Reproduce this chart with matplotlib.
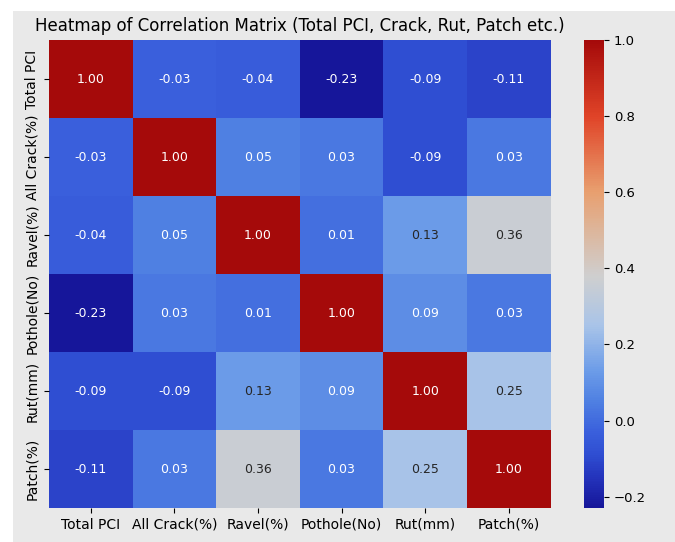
import numpy as np
import matplotlib
matplotlib.use("Agg")
import matplotlib.pyplot as plt
import seaborn as sns
from matplotlib.patches import Rectangle
from matplotlib.colors import LinearSegmentedColormap

labels = ["Total PCI", "All Crack(%)", "Ravel(%)", "Pothole(No)", "Rut(mm)", "Patch(%)"]

total_pci = [1.00, -0.03, -0.04, -0.23, -0.09, -0.11]
all_crack = [-0.03, 1.00, 0.05, 0.03, -0.09, 0.03]
ravel = [-0.04, 0.05, 1.00, 0.01, 0.13, 0.36]
pothole = [-0.23, 0.03, 0.01, 1.00, 0.09, 0.03]
rut = [-0.09, -0.09, 0.13, 0.09, 1.00, 0.25]
patch = [-0.11, 0.03, 0.36, 0.03, 0.25, 1.00]

corr = np.array([total_pci, all_crack, ravel, pothole, rut, patch])
vmin, vmax = corr.min(), corr.max()

# vivid blue -> grey -> red diverging palette, anchored at correlation values
anchor_vals = [-0.23, -0.15, -0.09, -0.03, 0.05, 0.13, 0.25, 0.38, 0.6, 0.8, 1.0]
anchor_cols = ["#16169a", "#2434bc", "#2f4ed2", "#3a60dc", "#4f80e2", "#6c9ce8",
               "#a9c4e8", "#cfcfcf", "#e8a070", "#e04428", "#a50a0a"]
pos = [(v - vmin) / (vmax - vmin) for v in anchor_vals]
cmap = LinearSegmentedColormap.from_list("bgr", list(zip(pos, anchor_cols)))

bg = "#e9e9e9"
fig = plt.figure(figsize=(6.75, 5.42), dpi=100, facecolor="white")
fig.patches.append(Rectangle((13 / 675, -0.01), 1.1, 1.01 - 11 / 542,
                             transform=fig.transFigure, facecolor=bg,
                             edgecolor="none", zorder=-10))

ax = fig.add_axes([0.0726, 0.0627, 0.743, 0.863])
cax = fig.add_axes([0.865, 0.0627, 0.030, 0.863])

sns.heatmap(corr, annot=True, fmt=".2f", cmap=cmap, vmin=vmin, vmax=vmax,
            ax=ax, cbar_ax=cax, xticklabels=labels, yticklabels=labels,
            annot_kws={"fontsize": 9})

# light cells get dark annotation text
for txt, v in zip(ax.texts, corr.ravel()):
    txt.set_color("#262626" if 0.1 < v < 0.5 else "white")

ax.set_title("Heatmap of Correlation Matrix (Total PCI, Crack, Rut, Patch etc.)",
             fontsize=12, pad=7)
ax.tick_params(axis="both", labelsize=10)
plt.setp(ax.get_xticklabels(), rotation=0)
plt.setp(ax.get_yticklabels(), rotation=90, va="center")
cax.tick_params(labelsize=9.5)
cax.set_yticks([-0.2, 0.0, 0.2, 0.4, 0.6, 0.8, 1.0])

fig.savefig("out.png", dpi=100)
